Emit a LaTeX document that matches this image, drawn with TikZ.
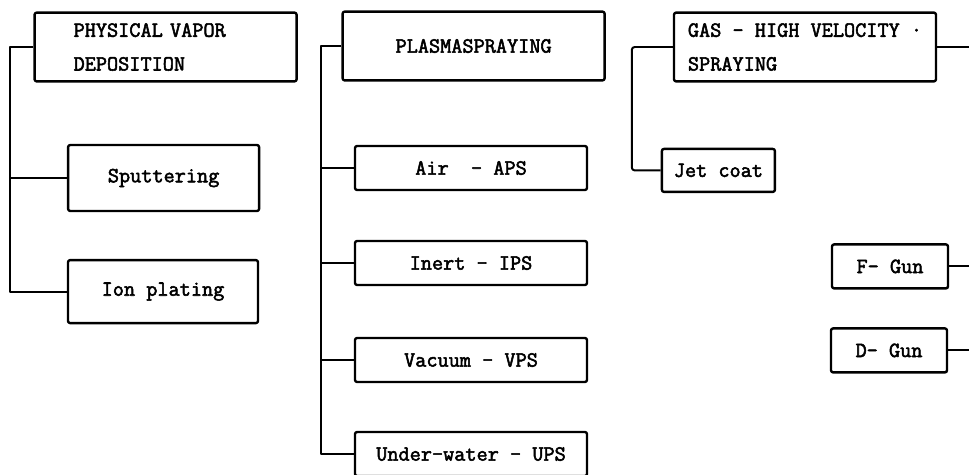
\documentclass[tikz,border=0pt]{standalone}
\usepackage{fontspec}
\setmonofont{Latin Modern Mono}[AutoFakeBold=2.5]
\usepackage{tikz}
\usetikzlibrary{positioning,calc}

\begin{document}
\begin{tikzpicture}[-, line width=1.4pt, line join=round,
	blk/.style={draw, rectangle, rounded corners=1.5pt, line width=1.7pt, inner sep=0pt,
		font=\ttfamily\bfseries\fontsize{15.4}{24}\selectfont, align=left},
	big/.style={minimum width=6.55cm, minimum height=1.72cm},
	mid/.style={minimum width=5.8cm, minimum height=1.1cm},
	sml/.style={minimum width=2.9cm, minimum height=1.1cm}]

	\useasboundingbox (0,0) rectangle (24.225,-11.85);

	\node[blk, big, text width=4.6cm, shift = {(4.14, -1.175)}] (pvd) {PHYSICAL VAPOR\\DEPOSITION};

	\node[blk, minimum width=4.775cm, minimum height=1.65cm, shift = {(4.09, -4.45)}] (sput) {Sputtering};

	\node[blk, minimum width=4.75cm, minimum height=1.575cm, shift = {(4.075, -7.29)}] (ion) {Ion plating};

	\node[blk, big, shift = {(11.84, -1.15)}] (plasma) {PLASMASPRAYING};

	\node[blk, mid, shift = {(11.775, -4.2)}] (aps) {Air~~- APS};

	\node[blk, mid, shift = {(11.775, -6.575)}] (ips) {Inert - IPS};

	\node[blk, mid, shift = {(11.775, -9.0)}] (vps) {Vacuum - VPS};

	\node[blk, mid, shift = {(11.775, -11.35)}] (ups) {Under-water - UPS};

	\node[blk, big, shift = {(20.125, -1.175)}] (gas) {GAS - HIGH VELOCITY ·\\SPRAYING};

	\node[blk, minimum width=2.825cm, minimum height=1.075cm, shift = {(17.96, -4.26)}] (jet) {Jet coat};

	\node[blk, sml, shift = {(22.25, -6.66)}] (fgun) {F- Gun};

	\node[blk, sml, shift = {(22.225, -8.76)}] (dgun) {D- Gun};

	% physical vapor deposition branch
	\coordinate (pvd_t) at ($(pvd.west) + (-0.58, 0)$);
	\draw (pvd.west) -- (pvd_t) |- (ion.west);
	\draw (pvd_t |- sput.west) -- (sput.west);

	% plasmaspraying branch
	\coordinate (pl_t) at ($(plasma.west) + (-0.5, 0)$);
	\draw (plasma.west) -- (pl_t) |- (ups.west);
	\foreach \n in {aps, ips, vps}
		\draw (pl_t |- \n.west) -- (\n.west);

	% gas branch
	\coordinate (gas_t) at ($(gas.west) + (-1.025, 0)$);
	\draw[rounded corners=2pt] (gas.west) -- (gas_t) |- (jet.west);

	% lines leaving the right edge
	\foreach \n in {gas, fgun, dgun} {
		\coordinate (\n_out) at ($(\n.east) + (1.0, 0)$);
		\draw (\n.east) -- (\n_out);
	}
\end{tikzpicture}
\end{document}
